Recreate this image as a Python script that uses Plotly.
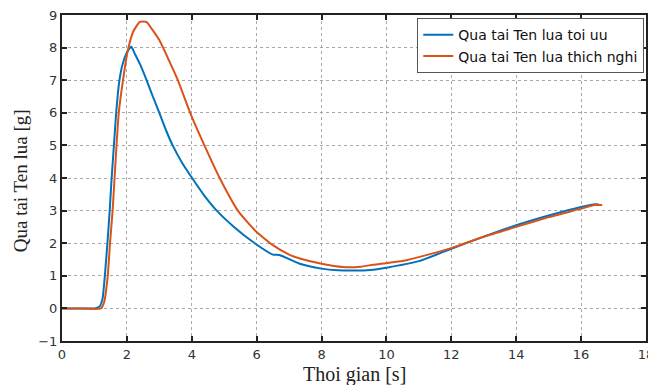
import plotly.graph_objects as go

# Qua tai Ten lua toi uu (blue)
t_opt = [0, 0.5, 1.0, 1.15, 1.25, 1.32, 1.4, 1.47, 1.53, 1.6, 1.67, 1.77, 1.87, 2.0, 2.13,
         2.25, 2.4, 2.6, 2.8, 3.0, 3.2, 3.41, 3.7, 4.01, 4.38, 4.77, 5.3, 5.94, 6.5, 6.7, 7.33, 8.0, 8.5,
         9.0, 9.5, 10.0, 11.0, 12.0, 13.0, 14.0, 15.0, 16.0, 16.38, 16.55]
g_opt = [0, 0, 0, 0.05, 0.3, 1.0, 2.0, 3.0, 4.0, 5.0, 6.0, 7.0, 7.5, 7.85, 8.03,
         7.8, 7.5, 7.02, 6.5, 6.0, 5.48, 5.0, 4.47, 4.0, 3.47, 3.0, 2.5, 2.0, 1.65, 1.64, 1.37, 1.22, 1.17,
         1.16, 1.18, 1.25, 1.45, 1.83, 2.2, 2.55, 2.85, 3.11, 3.19, 3.19]

# Qua tai Ten lua thich nghi (orange)
t_ad = [0, 0.5, 1.2, 1.3, 1.41, 1.48, 1.56, 1.62, 1.68, 1.75, 1.88, 2.03, 2.2, 2.4, 2.6,
        2.75, 3.0, 3.3, 3.57, 3.95, 4.39, 4.86, 5.42, 5.94, 6.5, 7.0, 7.33, 8.0, 8.66,
        9.2, 9.59, 10.62, 12.0, 13.0, 14.0, 15.0, 16.0, 16.4, 16.65]
g_ad = [0, 0, 0, 0.2, 1.0, 2.0, 3.0, 4.0, 5.0, 6.0, 7.0, 7.92, 8.5, 8.79, 8.79,
        8.6, 8.23, 7.6, 7.0, 6.0, 5.0, 4.0, 3.0, 2.4, 1.94, 1.65, 1.53, 1.37, 1.27,
        1.28, 1.34, 1.48, 1.85, 2.2, 2.5, 2.8, 3.06, 3.17, 3.17]

x_ticks = list(range(0, 19, 2))
y_ticks = list(range(-1, 10))

fig = go.Figure()
fig.add_trace(go.Scatter(x=t_opt, y=g_opt, mode="lines", name="Qua tai Ten lua toi uu",
                         line=dict(color="#0072BD", width=2, shape="spline", smoothing=0.5)))
fig.add_trace(go.Scatter(x=t_ad, y=g_ad, mode="lines", name="Qua tai Ten lua thich nghi",
                         line=dict(color="#D95319", width=2, shape="spline", smoothing=0.5)))

axis_common = dict(
    showline=True, linecolor="#222222", linewidth=2, mirror="ticks",
    ticks="inside", ticklen=5, tickwidth=2, tickcolor="#222222",
    showgrid=True, gridcolor="#a8a8a8", griddash="dot", gridwidth=1,
    zeroline=False, automargin=False, ticklabeloverflow="allow",
    tickfont=dict(family="DejaVu Sans, Arial, sans-serif", size=13, color="#333333"),
)

# the page body adds an 8px offset, so the figure is sized to fit the 656x385 window
fig.update_layout(
    width=648, height=377,
    margin=dict(l=54, r=10, t=7, b=44),
    plot_bgcolor="white", paper_bgcolor="white",
    showlegend=True,
    legend=dict(x=0.997, y=0.99, xanchor="right", yanchor="top",
                bgcolor="white", bordercolor="#555555", borderwidth=1,
                font=dict(family="DejaVu Sans, Arial, sans-serif", size=14, color="#111111"),
                tracegroupgap=0),
    xaxis=dict(range=[0, 18], tickvals=x_ticks, **axis_common),
    yaxis=dict(range=[-1, 9], tickvals=y_ticks, **axis_common),
    annotations=[
        dict(text="Thoi gian [s]", xref="paper", yref="paper", x=0.5, y=0,
             xanchor="center", yanchor="top", yshift=-20, showarrow=False,
             font=dict(family="Liberation Serif, Times New Roman, serif", size=20, color="#222222")),
        dict(text="Qua tai Ten lua [g]", xref="paper", yref="paper", x=0, y=0.49,
             xanchor="center", yanchor="middle", xshift=-42, textangle=-90, showarrow=False,
             font=dict(family="Liberation Serif, Times New Roman, serif", size=19, color="#222222")),
    ],
)

fig.write_html("out.html")
